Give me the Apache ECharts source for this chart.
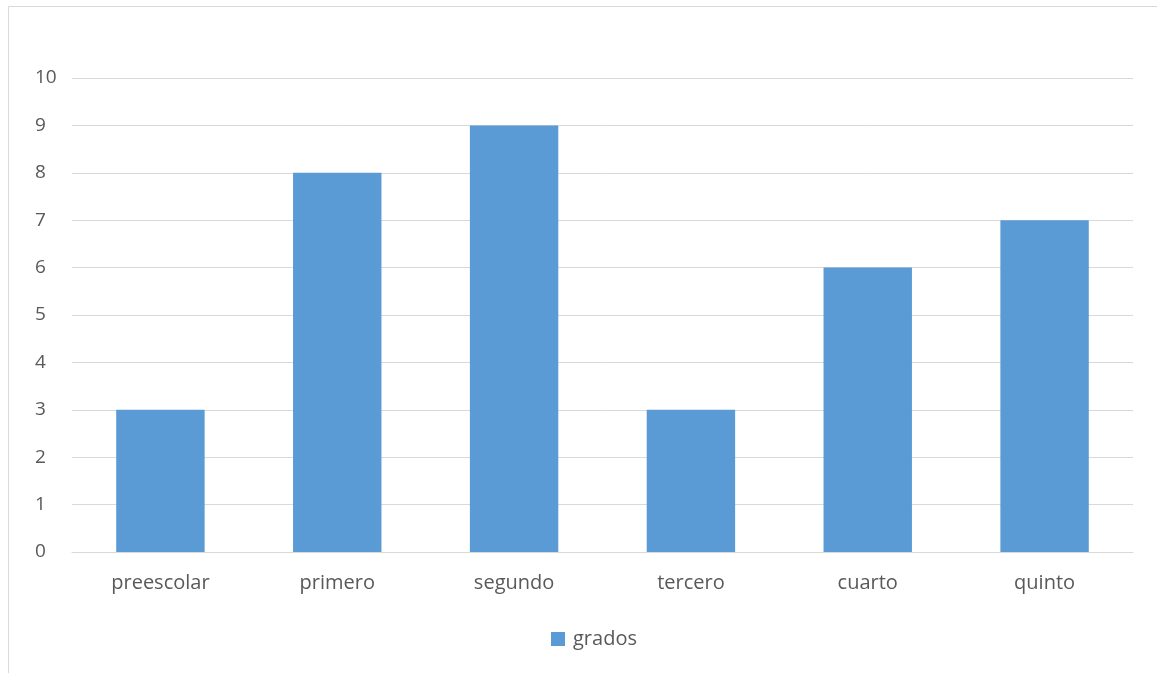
<!DOCTYPE html>
<html>
<head>
<meta charset="utf-8">
<script src="https://cdn.jsdelivr.net/npm/echarts@6/dist/echarts.min.js"></script>
<style>
html,body{margin:0;padding:0;background:#fff;}
#chart{width:1157px;height:673px;}
</style>
</head>
<body>
<div id="chart"></div>
<script>
const categories = ['preescolar', 'primero', 'segundo', 'tercero', 'cuarto', 'quinto'];
const seriesName = 'grados';
const values = [3, 8, 9, 3, 6, 7];

const chart = echarts.init(document.getElementById('chart'), null, {renderer: 'canvas'});
const font = '"Open Sans", "Noto Sans", sans-serif';
chart.setOption({
  animation: false,
  backgroundColor: '#ffffff',
  graphic: [{
    type: 'rect',
    shape: {x: 8.5, y: 6.5, width: 1160, height: 680},
    style: {fill: 'none', stroke: '#d9d9d9', lineWidth: 1},
    silent: true
  }],
  grid: {left: 72, right: 24, top: 78, bottom: 121, containLabel: false},
  legend: {
    data: [seriesName],
    top: 624,
    left: 546,
    itemWidth: 14,
    itemHeight: 14,
    icon: 'rect',
    textStyle: {fontFamily: font, fontSize: 20, color: '#595959', padding: [0, 0, 0, 3]}
  },
  xAxis: {
    type: 'category',
    data: categories,
    axisLine: {show: true, lineStyle: {color: '#d9d9d9', width: 1}},
    axisTick: {show: false},
    axisLabel: {fontFamily: font, fontSize: 20, color: '#595959', margin: 21}
  },
  yAxis: {
    type: 'value',
    min: 0,
    max: 10,
    interval: 1,
    axisLine: {show: false},
    axisTick: {show: false},
    axisLabel: {fontFamily: font, fontSize: 19, color: '#595959', margin: 37, align: 'left'},
    splitLine: {lineStyle: {color: '#d9d9d9', width: 1}}
  },
  series: [{
    name: seriesName,
    type: 'bar',
    data: values,
    barWidth: '50%',
    itemStyle: {color: '#5B9BD5'}
  }]
});
</script>
</body>
</html>
